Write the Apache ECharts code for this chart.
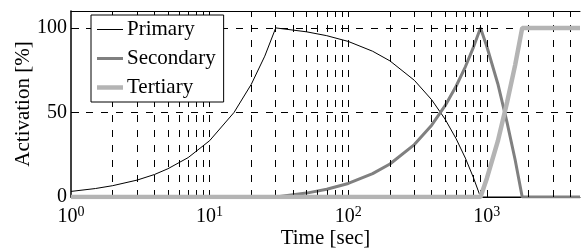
<!DOCTYPE html>
<html>
<head>
<meta charset="utf-8">
<script src="https://cdn.jsdelivr.net/npm/echarts@6/dist/echarts.min.js"></script>
<style>
html, body { margin: 0; padding: 0; background: #fff; }
#chart { width: 582px; height: 251px; }
</style>
</head>
<body>
<div id="chart"></div>
<script>
// time [sec] and activation [%]
var primaryT = [1, 1.5, 2, 3, 4, 5, 7, 10, 15, 20, 25, 30, 50, 70, 100, 150, 200, 300, 400, 500, 600, 700, 800, 900, 4700];
var primaryV = [3.3, 5, 6.7, 10, 13.3, 16.7, 23.3, 33.3, 50, 66.7, 83.3, 100, 97.7, 95.4, 92, 86.2, 80.5, 69, 57.5, 46, 34.5, 23, 11.5, 0, 0];
var secondaryT = [1, 30, 50, 70, 100, 150, 200, 300, 400, 500, 600, 700, 800, 900, 1000, 1200, 1400, 1600, 1800, 4700];
var secondaryV = [0, 0, 2.3, 4.6, 8, 13.8, 19.5, 31, 42.5, 54, 65.5, 77, 88.5, 100, 89, 67, 44, 22, 0, 0];
var tertiaryT = [1, 900, 1000, 1200, 1400, 1600, 1800, 4700];
var tertiaryV = [0, 0, 11, 33, 56, 78, 100, 100];

var majorX = [1, 10, 100, 1000];
var gridX = [2, 3, 4, 5, 6, 7, 8, 9, 10, 20, 30, 40, 50, 60, 70, 80, 90, 100,
             200, 300, 400, 500, 600, 700, 800, 900, 1000, 2000, 3000, 4000];
var gridY = [50, 100];
var yTicks = [0, 50, 100];

function pairs(t, v) {
	return t.map(function (x, i) { return [x, v[i]]; });
}

var font = 'Liberation Serif';
var myChart = echarts.init(document.getElementById('chart'));
var option = {
	animation: false,
	textStyle: { fontFamily: font },
	grid: { left: 71, top: 11, right: 2, bottom: 54, outerBoundsMode: 'none', containLabel: false },
	legend: {
		// flat bars as icons, as thick as each line
		data: [
			{ name: 'Primary', icon: 'path://M0,0h26v1h-26z' },
			{ name: 'Secondary', icon: 'path://M0,0h26v3h-26z' },
			{ name: 'Tertiary', icon: 'path://M0,0h26v4.5h-26z' }
		],
		orient: 'vertical',
		left: 91,
		top: 15,
		z: 10,
		padding: [4, 8, 4, 6],
		itemWidth: 26,
		itemHeight: 20,
		itemGap: 8,
		selectedMode: false,
		backgroundColor: '#fff',
		borderColor: '#000',
		borderWidth: 1,
		textStyle: { fontFamily: font, fontSize: 21, color: '#000', padding: [0, 0, 0, -1] }
	},
	xAxis: [{
		type: 'log',
		logBase: 10,
		min: 1,
		max: 4700,
		name: 'Time [sec]',
		nameLocation: 'middle',
		nameGap: 31,
		nameMoveOverlap: false,
		nameTextStyle: { fontFamily: font, fontSize: 21, color: '#000' },
		axisLine: { lineStyle: { color: '#000', width: 1 } },
		axisTick: { inside: true, length: 4, customValues: gridX, lineStyle: { color: '#000' } },
		splitLine: { show: false },
		axisLabel: {
			customValues: majorX,
			margin: 8,
			color: '#000',
			formatter: function (v) {
				return '{b|10}{s|' + Math.round(Math.log10(v)) + '}';
			},
			rich: {
				b: { fontFamily: font, fontSize: 20, color: '#000', verticalAlign: 'bottom', lineHeight: 22 },
				s: { fontFamily: font, fontSize: 14, color: '#000', verticalAlign: 'top', lineHeight: 22, padding: [0, 0, 8, 0] }
			}
		}
	}, {
		type: 'log',
		logBase: 10,
		min: 1,
		max: 4700,
		position: 'top',
		axisLine: { show: true, lineStyle: { color: '#000', width: 1 } },
		axisTick: { inside: true, length: 4, customValues: gridX, lineStyle: { color: '#000' } },
		axisLabel: { show: false },
		splitLine: { show: false }
	}],
	yAxis: {
		type: 'value',
		min: 0,
		max: 110,
		name: 'Activation [%]',
		nameLocation: 'middle',
		nameGap: 37,
		nameMoveOverlap: false,
		nameTextStyle: { fontFamily: font, fontSize: 21, color: '#000' },
		axisLine: { show: true, lineStyle: { color: '#000', width: 1.5 } },
		axisTick: { inside: true, length: 8, customValues: yTicks, lineStyle: { color: '#000' } },
		axisLabel: {
			customValues: yTicks,
			margin: 4,
			verticalAlignMinLabel: 'middle',
			verticalAlignMaxLabel: 'middle',
			fontFamily: font,
			fontSize: 20,
			color: '#000'
		},
		splitLine: { show: false }
	},
	series: [{
		// dashed grid, kept under the curves
		name: 'grid',
		type: 'line',
		z: 1,
		data: [[1, 0]],
		symbol: 'none',
		lineStyle: { opacity: 0 },
		markLine: {
			silent: true,
			symbol: ['none', 'none'],
			label: { show: false },
			lineStyle: { color: '#000', type: [7, 8], width: 1 },
			data: gridX.map(function (v) { return { xAxis: v }; })
				.concat(gridY.map(function (v) { return { yAxis: v }; }))
		}
	}, {
		name: 'Primary',
		type: 'line',
		z: 3,
		data: pairs(primaryT, primaryV),
		symbol: 'none',
		lineStyle: { color: '#000', width: 1 },
		itemStyle: { color: '#000' }
	}, {
		name: 'Secondary',
		type: 'line',
		z: 4,
		data: pairs(secondaryT, secondaryV),
		symbol: 'none',
		lineStyle: { color: '#808080', width: 3 },
		itemStyle: { color: '#808080' }
	}, {
		name: 'Tertiary',
		type: 'line',
		z: 5,
		data: pairs(tertiaryT, tertiaryV),
		symbol: 'none',
		lineStyle: { color: '#b4b4b4', width: 4.5 },
		itemStyle: { color: '#b4b4b4' }
	}]
};
if (option && typeof option === "object") {
	myChart.setOption(option, true);
}
</script>
</body>
</html>
